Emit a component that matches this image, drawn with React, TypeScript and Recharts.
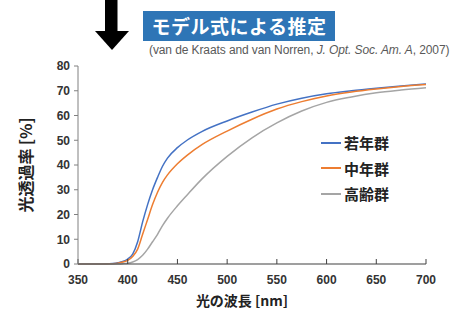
import React from 'react';
import { LineChart, Line, XAxis, YAxis } from 'recharts';

// wavelength [nm]
const wavelengths = [350, 360, 370, 380, 385, 390, 395, 400, 405, 410, 415, 420, 425, 430, 435, 440, 450, 460, 475, 500, 525, 550, 575, 600, 625, 650, 675, 700];
// transmittance [%]
const young = [0, 0, 0, 0.1, 0.2, 0.5, 1.0, 2, 4, 9, 17, 24, 30, 35, 39.5, 42.8, 47, 50.1, 53.6, 57.8, 61.4, 64.6, 67, 68.8, 70, 71, 71.9, 72.7];
const middle = [0, 0, 0, 0.05, 0.1, 0.3, 0.8, 1.5, 3, 6, 12, 18, 24, 29, 33, 36, 40.5, 44, 48.3, 53.7, 58.5, 62.6, 65.6, 67.9, 69.5, 70.7, 71.7, 72.5];
const elderly = [0, 0, 0, 0, 0, 0.05, 0.15, 0.3, 0.8, 1.8, 3.5, 6, 9, 12, 15.5, 18.5, 23.5, 28, 34.5, 43.5, 51, 57, 61.8, 65.3, 67.5, 69.2, 70.3, 71.2];

const xTicks = [350, 400, 450, 500, 550, 600, 650, 700];
const yTicks = [0, 10, 20, 30, 40, 50, 60, 70, 80];

const series = [
  { key: 'young', name: '若年群', color: '#4472c4' },
  { key: 'middle', name: '中年群', color: '#ed7d31' },
  { key: 'elderly', name: '高齢群', color: '#a5a5a5' },
];

const data = wavelengths.map((w, i) => ({
  w,
  young: young[i],
  middle: middle[i],
  elderly: elderly[i],
}));

const jp = '"Noto Sans CJK JP", "Noto Sans", sans-serif';
const num = '"Liberation Sans", Arial, sans-serif';

export default function App() {
  return (
    <div style={{ position: 'absolute', left: 0, top: 0, width: 462, height: 316, background: '#fff', overflow: 'hidden' }}>
      {/* down arrow */}
      <svg width={462} height={60} style={{ position: 'absolute', left: 0, top: 0 }}>
        <rect x={105} y={0} width={12.5} height={32} fill="#000" />
        <polygon points="95,31 129,31 112,50" fill="#000" />
      </svg>
      {/* title box */}
      <div
        style={{
          position: 'absolute', left: 143, top: 11, width: 192, height: 30,
          background: '#2e75b6', color: '#fff', fontFamily: jp, fontWeight: 700,
          fontSize: 19, lineHeight: '30px', textAlign: 'center', letterSpacing: 0.5,
        }}
      >
        モデル式による推定
      </div>
      <div
        style={{
          position: 'absolute', left: 149, top: 43, fontFamily: num, fontSize: 12,
          color: '#595959', whiteSpace: 'nowrap', letterSpacing: -0.1,
        }}
      >
        (van de Kraats and van Norren, <i>J. Opt. Soc. Am. A</i>, 2007)
      </div>

      <div style={{ position: 'absolute', left: 0, top: 0 }}>
        <LineChart width={462} height={316} data={data} margin={{ top: 66, right: 36, bottom: 22, left: 38 }}>
          <XAxis
            dataKey="w"
            type="number"
            domain={[350, 700]}
            ticks={xTicks}
            tickSize={-5}
            tickMargin={16}
            axisLine={{ stroke: '#404040', strokeWidth: 1.2 }}
            tickLine={{ stroke: '#404040' }}
            tick={{ fill: '#333', fontSize: 12, fontWeight: 700, fontFamily: num }}
            height={30}
          />
          <YAxis
            type="number"
            domain={[0, 80]}
            ticks={yTicks}
            tickSize={4}
            tickMargin={4}
            axisLine={{ stroke: '#808080' }}
            tickLine={{ stroke: '#808080' }}
            tick={{ fill: '#333', fontSize: 12, fontWeight: 700, fontFamily: num }}
            width={40}
          />
          {series.map((s) => (
            <Line
              key={s.key}
              dataKey={s.key}
              name={s.name}
              type="monotone"
              stroke={s.color}
              strokeWidth={1.5}
              dot={false}
              isAnimationActive={false}
            />
          ))}
        </LineChart>
      </div>

      {/* legend */}
      <div style={{ position: 'absolute', left: 321, top: 130, fontFamily: jp, fontWeight: 700, fontSize: 15, color: '#222' }}>
        {series.map((s) => (
          <div key={s.key} style={{ display: 'flex', alignItems: 'center', height: 25.5 }}>
            <span style={{ display: 'inline-block', width: 20, height: 2, background: s.color, marginRight: 3 }} />
            <span>{s.name}</span>
          </div>
        ))}
      </div>

      <div
        style={{
          position: 'absolute', left: 192, top: 290, width: 100, textAlign: 'center',
          fontFamily: jp, fontWeight: 700, fontSize: 14, color: '#222', whiteSpace: 'nowrap',
        }}
      >
        光の波長 [nm]
      </div>
      <div
        style={{
          position: 'absolute', left: 25, top: 165, transform: 'translate(-50%, -50%) rotate(-90deg)',
          fontFamily: jp, fontWeight: 700, fontSize: 16, color: '#222', whiteSpace: 'nowrap',
        }}
      >
        光透過率 [%]
      </div>
    </div>
  );
}
